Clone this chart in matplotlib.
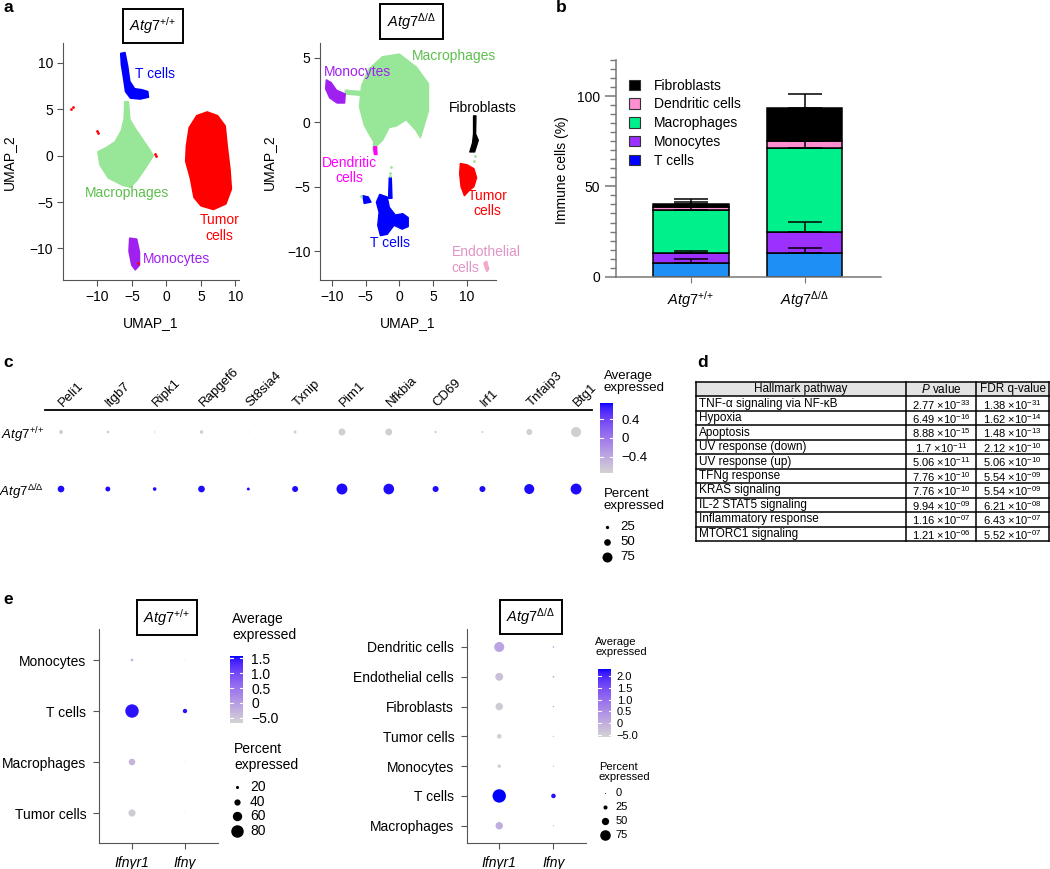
import numpy as np
import matplotlib
matplotlib.use("Agg")
import matplotlib.pyplot as plt
from matplotlib.patches import Polygon, Rectangle, Patch
from matplotlib.colors import LinearSegmentedColormap, Normalize
from matplotlib.cm import ScalarMappable

plt.rcParams['font.family'] = ['Liberation Sans', 'DejaVu Sans']
plt.rcParams['mathtext.fontset'] = 'custom'
plt.rcParams['mathtext.rm'] = 'Liberation Sans'
plt.rcParams['mathtext.it'] = 'Liberation Sans:italic'
plt.rcParams['mathtext.bf'] = 'Liberation Sans:bold'
plt.rcParams['axes.unicode_minus'] = True

# ---------------- data ----------------
WT = r'$\mathit{Atg7}^{+/{+}}$'
KO = r'$\mathit{Atg7}^{\Delta/\Delta}$'

# panel a, cluster outlines traced from the UMAP (UMAP_1, UMAP_2)
wt_tcells = [(-6.6, 11.0), (-6.0, 11.1), (-5.6, 9.6), (-5.3, 8.0), (-4.6, 7.2), (-3.6, 7.1),
             (-2.7, 6.9), (-2.6, 6.3), (-3.8, 6.1), (-5.2, 6.2), (-5.9, 6.9), (-6.2, 8.4), (-6.5, 9.8)]
wt_macro = [(-6.0, 5.8), (-5.5, 5.8), (-5.3, 3.9), (-4.5, 2.9), (-3.4, 1.7), (-2.4, 0.6), (-1.9, 0.0),
            (-3.0, -1.3), (-4.2, -2.6), (-5.2, -3.4), (-6.3, -3.2), (-8.4, -2.4), (-9.6, -1.0),
            (-9.9, 0.4), (-8.6, 0.9), (-7.4, 1.5), (-6.5, 2.7), (-6.1, 4.0)]
wt_tumor = [(4.4, 4.3), (5.9, 4.7), (7.4, 4.3), (8.5, 3.2), (8.8, 1.0), (9.2, -1.5), (9.4, -3.6),
            (8.6, -5.2), (6.8, -5.8), (5.0, -5.4), (4.0, -4.5), (3.5, -2.5), (2.8, -0.6), (2.9, 1.0),
            (3.3, 3.0)]
wt_mono = [(-5.3, -8.9), (-4.3, -9.0), (-3.9, -10.4), (-3.9, -11.8), (-4.5, -12.3), (-5.0, -11.8),
           (-5.4, -10.3)]
wt_red_x = [-13.8, -13.5, -10.0, -9.9, -1.7, -1.5, -4.1]
wt_red_y = [5.0, 5.2, 2.6, 2.4, 0.2, 0.0, -11.6]

ko_macro = [(-5.9, 1.2), (-5.6, 2.8), (-4.6, 4.1), (-2.5, 5.1), (0.0, 5.3), (2.5, 4.3), (4.3, 3.0),
            (4.3, 0.9), (3.1, -1.2), (2.4, -0.6), (1.0, 0.2), (-0.5, -0.3), (-1.5, -0.4), (-2.5, -1.4),
            (-3.3, -1.8), (-3.5, -2.4), (-3.9, -2.2), (-3.8, -1.5), (-4.6, -0.8), (-5.2, -0.2)]
ko_neck = [(-8.0, 2.5), (-5.8, 2.4), (-5.8, 2.1), (-8.0, 2.2)]
ko_mono = [(-10.8, 3.3), (-10.1, 3.1), (-9.3, 2.5), (-8.0, 2.2), (-8.1, 1.5), (-9.2, 1.5),
           (-10.3, 1.9), (-10.9, 2.6)]
ko_fib = [(10.95, 0.5), (11.3, 0.5), (11.25, -0.9), (11.65, -1.4), (11.1, -2.3), (10.4, -2.3),
          (10.8, -1.6), (10.95, -0.9)]
ko_tumor = [(9.0, -3.2), (10.0, -3.3), (11.0, -3.6), (11.4, -4.3), (11.0, -5.0), (10.3, -5.3),
            (9.6, -5.7), (9.1, -5.0), (8.9, -4.0)]
ko_tcells = [(-2.9, -5.6), (-1.8, -5.8), (-1.5, -6.6), (-0.6, -7.2), (0.5, -7.1), (1.3, -7.4),
             (1.3, -8.1), (0.4, -8.3), (-0.8, -8.0), (-1.8, -8.7), (-2.8, -8.8), (-3.2, -8.0),
             (-3.0, -7.0), (-3.4, -6.2)]
ko_tstem = [(-1.5, -4.3), (-1.2, -4.3), (-1.1, -5.9), (-1.6, -5.9)]
ko_tsmall = [(-5.4, -5.7), (-4.6, -5.8), (-4.2, -6.2), (-5.2, -6.3)]
ko_dend = [(-3.8, -1.9), (-3.4, -1.9), (-3.3, -2.5), (-3.7, -2.5)]
ko_endo = [(12.5, -10.9), (12.9, -10.8), (13.2, -11.4), (12.9, -11.6), (12.6, -11.2)]
ko_green_x = [-1.3, -1.35, -1.4, 11.1, 11.0, -5.7]
ko_green_y = [-3.5, -3.9, -4.2, -2.6, -3.0, -5.7]

# panel b, stacked percentages (segment heights) and upper errors
b_cells = ['T cells', 'Monocytes', 'Macrophages', 'Dendritic cells', 'Fibroblasts']
b_wt = [7.4, 5.5, 24.2, 1.5, 1.8]
b_ko = [12.9, 11.9, 46.5, 3.7, 18.4]
b_wt_err = [2.2, 1.4, 1.5, 2.6, 2.8]
b_ko_err = [3.1, 5.5, 3.7, 3.0, 7.7]

# panel c
genes_c = ['Peli1', 'Itgb7', 'Ripk1', 'Rapgef6', 'St8sia4', 'Txnip', 'Pim1', 'Nfkbia', 'CD69',
           'Irf1', 'Tnfaip3', 'Btg1']
pct_c_wt = [30, 20, 10, 27, 7, 22, 52, 52, 18, 15, 45, 75]
pct_c_ko = [50, 37, 27, 50, 22, 45, 82, 80, 45, 45, 75, 82]
avg_c_wt = [-0.707, -0.707, -0.707, -0.707, -0.707, -0.707, -0.707, -0.707, -0.707, -0.707, -0.707, -0.707]
avg_c_ko = [0.707, 0.707, 0.707, 0.707, 0.707, 0.707, 0.707, 0.707, 0.707, 0.707, 0.707, 0.707]

# panel d
pathways = ['TNF-α signaling via NF-κB', 'Hypoxia', 'Apoptosis', 'UV response (down)',
            'UV response (up)', 'TFNg response', 'KRAS signaling', 'IL-2 STAT5 signaling',
            'Inflammatory response', 'MTORC1 signaling']
p_mant = ['2.77', '6.49', '8.88', '1.7', '5.06', '7.76', '7.76', '9.94', '1.16', '1.21']
p_exp = ['-33', '-16', '-15', '-11', '-11', '-10', '-10', '-09', '-07', '-06']
q_mant = ['1.38', '1.62', '1.48', '2.12', '5.06', '5.54', '5.54', '6.21', '6.43', '5.52']
q_exp = ['-31', '-14', '-13', '-10', '-10', '-09', '-09', '-08', '-07', '-07']

# panel e
genes_e = ['Ifnγr1', 'Ifnγ']
e_wt_cells = ['Monocytes', 'T cells', 'Macrophages', 'Tumor cells']
e_wt_pct_r1 = [17, 86, 42, 46]
e_wt_pct_g = [5, 28, 5, 5]
e_wt_avg_r1 = [-0.35, 1.5, -0.3, -0.6]
e_wt_avg_g = [-0.5, 1.5, -0.5, -0.5]
e_ko_cells = ['Dendritic cells', 'Endothelial cells', 'Fibroblasts', 'Tumor cells', 'Monocytes',
              'T cells', 'Macrophages']
e_ko_pct_r1 = [71, 55, 51, 29, 20, 97, 51]
e_ko_pct_g = [6, 6, 5, 4, 4, 29, 4]
e_ko_avg_r1 = [0.15, -0.3, -0.45, -0.5, -0.5, 2.3, 0.0]
e_ko_avg_g = [0.3, 0.3, 0.2, -0.2, -0.2, 2.2, -0.2]

# ---------------- helpers ----------------
W, H = 1050, 869
fig = plt.figure(figsize=(W / 100, H / 100), dpi=100)


def box(x0, y0, x1, y1):
    return [x0 / W, 1 - y1 / H, (x1 - x0) / W, (y1 - y0) / H]


_M = np.array([[0.4124, 0.3576, 0.1805], [0.2126, 0.7152, 0.0722], [0.0193, 0.1192, 0.9505]])
_WHITE = np.array([0.95047, 1.0, 1.08883])


def srgb2lab(rgb):
    c = np.asarray(rgb, float)
    lin = np.where(c <= 0.04045, c / 12.92, ((c + 0.055) / 1.055) ** 2.4)
    xyz = _M @ lin / _WHITE
    f = np.where(xyz > 0.008856, np.cbrt(xyz), 7.787 * xyz + 16 / 116)
    return np.array([116 * f[1] - 16, 500 * (f[0] - f[1]), 200 * (f[1] - f[2])])


def lab2srgb(lab):
    fy = (lab[0] + 16) / 116
    f = np.array([fy + lab[1] / 500, fy, fy - lab[2] / 200])
    xyz = np.where(f ** 3 > 0.008856, f ** 3, (f - 16 / 116) / 7.787) * _WHITE
    lin = np.clip(np.linalg.inv(_M) @ xyz, 0, 1)
    return np.clip(np.where(lin <= 0.0031308, 12.92 * lin, 1.055 * lin ** (1 / 2.4) - 0.055), 0, 1)


l0, l1 = srgb2lab([211 / 255] * 3), srgb2lab([0, 0, 1])
cmap = LinearSegmentedColormap.from_list('gb', [lab2srgb(l0 + (l1 - l0) * t) for t in np.linspace(0, 1, 64)])


def msize(r):
    return (2 * np.asarray(r, float) * 0.72) ** 2


def colorbar(rect, vmin, vmax, ticks, labels, fs, pad):
    cax = fig.add_axes(box(*rect))
    cb = fig.colorbar(ScalarMappable(Normalize(vmin, vmax), cmap), cax=cax)
    cb.outline.set_visible(False)
    cb.set_ticks(ticks)
    cb.set_ticklabels(labels)
    cax.tick_params(length=0, labelsize=fs, pad=pad)
    for t in ticks:
        cax.plot([0, 0.2], [t, t], color='white', lw=0.8)
        cax.plot([0.8, 1], [t, t], color='white', lw=0.8)


# overlay in pixel coordinates for labels and legends
ov = fig.add_axes([0, 0, 1, 1], zorder=10)
ov.set_xlim(0, W)
ov.set_ylim(H, 0)
ov.axis('off')


def title_box(x, y, s):
    ov.text(x, y, s, ha='center', va='center', fontsize=10.5,
            bbox=dict(boxstyle='square,pad=0.45', fc='white', ec='black', lw=1.4))


for letter, (lx, ly) in zip('abcde', [(3, 12), (556, 12), (3, 367), (697, 367), (3, 604)]):
    ov.text(lx, ly, letter, fontsize=12.5, fontweight='bold', va='baseline')

# ---------------- panel a ----------------
GREEN, GREEN_T = '#98e698', '#5cbf4c'


def umap_axes(rect, xlim, ylim, yticks):
    ax = fig.add_axes(box(*rect))
    ax.set_xlim(*xlim)
    ax.set_ylim(*ylim)
    ax.set_xticks([-10, -5, 0, 5, 10])
    ax.set_yticks(yticks)
    for s in ['top', 'right']:
        ax.spines[s].set_visible(False)
    for s in ['left', 'bottom']:
        ax.spines[s].set_color('#555555')
    ax.tick_params(labelsize=10, length=4, color='#555555', pad=3)
    return ax


axA = umap_axes((62.7, 43.3, 238.6, 280), (-15.0, 10.45), (-13.4, 12.1), [-10, -5, 0, 5, 10])
for poly, col in [(wt_macro, GREEN), (wt_tumor, '#ff0000'), (wt_tcells, '#0000ff'), (wt_mono, '#a020f0')]:
    axA.add_patch(Polygon(poly, closed=True, fc=col, ec=col, lw=1.2, joinstyle='round'))
axA.scatter(wt_red_x, wt_red_y, s=4, color='#ff0000', lw=0)
axA.text(-4.6, 8.8, 'T cells', color='#0000ff', fontsize=10, va='center')
axA.text(-5.7, -4.05, 'Macrophages', color=GREEN_T, fontsize=10, ha='center', va='center')
axA.text(7.7, -7.8, 'Tumor\ncells', color='#ff0000', fontsize=10, ha='center', va='center',
         linespacing=1.15)
axA.text(-3.4, -11.1, 'Monocytes', color='#a020f0', fontsize=10, va='center')

axA2 = umap_axes((320.2, 43.3, 495.9, 280), (-11.7, 14.25), (-12.25, 6.14), [-10, -5, 0, 5])
for poly, col in [(ko_macro, GREEN), (ko_neck, GREEN), (ko_mono, '#a020f0'), (ko_fib, '#000000'),
                  (ko_tumor, '#ff0000'), (ko_tcells, '#0000ff'), (ko_tstem, '#0000ff'),
                  (ko_tsmall, '#0000ff'), (ko_dend, '#ff00ff'), (ko_endo, '#f0a8cc')]:
    axA2.add_patch(Polygon(poly, closed=True, fc=col, ec=col, lw=1.0, joinstyle='round'))
axA2.scatter(ko_green_x, ko_green_y, s=4, color=GREEN, lw=0)
axA2.text(1.8, 5.15, 'Macrophages', color=GREEN_T, fontsize=10, va='center')
axA2.text(-11.1, 3.9, 'Monocytes', color='#a020f0', fontsize=10, va='center')
axA2.text(7.3, 1.15, 'Fibroblasts', color='#000000', fontsize=10, va='center')
axA2.text(-7.4, -3.75, 'Dendritic\ncells', color='#ff00ff', fontsize=10, ha='center', va='center',
          linespacing=1.15)
axA2.text(13.0, -6.3, 'Tumor\ncells', color='#ff0000', fontsize=10, ha='center', va='center',
          linespacing=1.15)
axA2.text(-1.4, -9.35, 'T cells', color='#0000ff', fontsize=10, ha='center', va='center')
axA2.text(7.7, -10.7, 'Endothelial\ncells', color='#e195c6', fontsize=10, ha='left', va='center',
          linespacing=1.15)

ov.text(8.6, 162, 'UMAP_2', rotation=90, ha='center', va='center', fontsize=10)
ov.text(268.6, 162, 'UMAP_2', rotation=90, ha='center', va='center', fontsize=10)
ov.text(150.6, 323, 'UMAP_1', ha='center', va='center', fontsize=10)
ov.text(408, 323, 'UMAP_1', ha='center', va='center', fontsize=10)
title_box(153, 26, WT)
title_box(411.5, 21.5, KO)

# ---------------- panel b ----------------
bar_cols = ['#1e90f5', '#9b30ff', '#00f08c', '#ff8fd0', '#000000']
leg_cols = ['#0000ff', '#9b30ff', '#00f08c', '#ff8fd0', '#000000']
axB = fig.add_axes(box(616, 60, 880.7, 276.7))
for xi, (vals, errs) in enumerate([(b_wt, b_wt_err), (b_ko, b_ko_err)]):
    bottom = 0
    tops = []
    for v, c in zip(vals, bar_cols):
        axB.bar(xi, v, bottom=bottom, width=0.667, color=c, edgecolor='black', lw=1.1, zorder=2)
        bottom += v
        tops.append(bottom)
    for t, e in zip(tops, errs):
        axB.errorbar(xi, t, yerr=[[0], [e]], color='black', lw=1.1, capsize=12.5, capthick=1.1,
                     zorder=3)
axB.set_xlim(-0.66, 1.67)
axB.set_ylim(0, 120)
axB.set_yticks([0, 50, 100])
axB.set_yticks(np.arange(0, 121, 5), minor=True)
axB.set_xticks([0, 1])
axB.set_xticklabels([WT, KO], fontsize=10.5)
for s in ['top', 'right']:
    axB.spines[s].set_visible(False)
for s in ['left', 'bottom']:
    axB.spines[s].set_color('#777777')
    axB.spines[s].set_linewidth(1.1)
axB.tick_params(axis='y', which='major', length=8, labelsize=10, color='#777777', width=1.1)
axB.tick_params(axis='y', which='minor', length=4, color='#777777', width=1.0)
axB.tick_params(axis='x', length=4, color='#777777', pad=5)
handles = [Patch(fc=c, ec='#333333', lw=0.8) for c in leg_cols[::-1]]
axB.legend(handles, b_cells[::-1], loc='upper left', bbox_to_anchor=(0.03, 0.94), frameon=False,
           fontsize=10, handlelength=0.75, handleheight=0.75, handletextpad=1.0, labelspacing=0.35,
           borderaxespad=0)
ov.text(561.7, 170, 'Immune cells (%)', rotation=90, ha='center', va='center', fontsize=10)

# ---------------- panel c ----------------
axC = fig.add_axes(box(45, 410, 592, 510))
xs = np.arange(len(genes_c))
normC = Normalize(-0.737, 0.737)
axC.scatter(xs, np.zeros(len(xs)), s=msize(np.asarray(pct_c_wt) / 15), c=avg_c_wt, cmap=cmap,
            norm=normC, lw=0)
axC.scatter(xs, np.ones(len(xs)), s=msize(np.asarray(pct_c_ko) / 15), c=avg_c_ko, cmap=cmap,
            norm=normC, lw=0)
axC.set_xlim(-0.342, 11.34)
axC.set_ylim(1.368, -0.386)
for s in ['left', 'right', 'bottom']:
    axC.spines[s].set_visible(False)
axC.spines['top'].set_linewidth(1.3)
axC.xaxis.tick_top()
axC.set_xticks(xs)
axC.set_xticklabels(genes_c, rotation=45, ha='left', va='center', rotation_mode='anchor', fontsize=9.5)
axC.set_yticks([0, 1])
axC.set_yticklabels([WT, KO], fontsize=9.5)
axC.tick_params(length=0, pad=4)
axC.tick_params(axis='y', pad=1)

colorbar((600, 403, 613, 473), -0.737, 0.737, [0.4, 0, -0.4], ['0.4', '0', '−0.4'], 9.5, 6)
ov.text(604, 382, 'Average\nexpressed', fontsize=9.5, va='center', linespacing=1.1)
ov.text(604, 500, 'Percent\nexpressed', fontsize=9.5, va='center', linespacing=1.1)
for p, y in zip([25, 50, 75], [527, 542, 557]):
    ov.scatter(607, y, s=msize(p / 15), color='black', lw=0)
    ov.text(620, y, str(p), fontsize=9.5, va='center')

# ---------------- panel d ----------------
tx0, tx1, ty0 = 696, 1049, 382
cols_x = [696, 906, 976, 1049]
rh = 159 / 11
ov.add_patch(Rectangle((tx0, ty0), tx1 - tx0, rh, fc='#e3e3e3', ec='none'))
for i in range(12):
    ov.plot([tx0, tx1], [ty0 + i * rh, ty0 + i * rh], color='black', lw=1.1)
for cx in cols_x:
    ov.plot([cx, cx], [ty0, ty0 + 11 * rh], color='black', lw=1.1)
hy = ty0 + rh / 2
ov.text((cols_x[0] + cols_x[1]) / 2, hy, 'Hallmark pathway', ha='center', va='center', fontsize=8.5)
ov.text((cols_x[1] + cols_x[2]) / 2, hy, r'$\mathit{P}$ value', ha='center', va='center', fontsize=8.5)
ov.text((cols_x[2] + cols_x[3]) / 2, hy, 'FDR q-value', ha='center', va='center', fontsize=8.5)
for i, name in enumerate(pathways):
    yy = ty0 + (i + 1.5) * rh
    ov.text(cols_x[0] + 3, yy, name, ha='left', va='center', fontsize=8.5)
    ov.text((cols_x[1] + cols_x[2]) / 2, yy + 1, p_mant[i] + r' ×10$^{' + p_exp[i] + '}$',
            ha='center', va='center', fontsize=8)
    ov.text((cols_x[2] + cols_x[3]) / 2, yy + 1, q_mant[i] + r' ×10$^{' + q_exp[i] + '}$',
            ha='center', va='center', fontsize=8)

# ---------------- panel e ----------------


def dot_axes(rect, xlim, ylim, cells, fs):
    ax = fig.add_axes(box(*rect))
    ax.set_xlim(*xlim)
    ax.set_ylim(*ylim)
    for s in ['top', 'right']:
        ax.spines[s].set_visible(False)
    for s in ['left', 'bottom']:
        ax.spines[s].set_color('#555555')
    ax.set_xticks([0, 1])
    ax.set_xticklabels(genes_e, fontstyle='italic', fontsize=10)
    ax.set_yticks(range(len(cells)))
    ax.set_yticklabels(cells, fontsize=fs)
    ax.tick_params(length=4, color='#555555', pad=5)
    return ax


axE = dot_axes((99, 629, 218, 843), (-0.623, 1.623), (3.588, -0.608), e_wt_cells, 10)
normE = Normalize(-0.68, 1.58)
yy = np.arange(len(e_wt_cells))
axE.scatter(np.zeros(len(yy)), yy, s=msize(np.asarray(e_wt_pct_r1) * 0.078), c=e_wt_avg_r1,
            cmap=cmap, norm=normE, lw=0)
axE.scatter(np.ones(len(yy)), yy, s=msize(np.asarray(e_wt_pct_g) * 0.078), c=e_wt_avg_g,
            cmap=cmap, norm=normE, lw=0)
colorbar((230, 656, 243, 723), -0.68, 1.58, [1.5, 1.0, 0.5, 0, -0.5],
         ['1.5', '1.0', '0.5', '0', '−5.0'], 10, 6)
ov.text(232, 627, 'Average\nexpressed', fontsize=10, va='center', linespacing=1.1)
ov.text(234, 757, 'Percent\nexpressed', fontsize=10, va='center', linespacing=1.1)
for p, y in zip([20, 40, 60, 80], [787, 802, 816, 831]):
    ov.scatter(237.3, y, s=msize(p * 0.078), color='black', lw=0)
    ov.text(250, y, str(p), fontsize=10, va='center')
title_box(167, 617.5, WT)

axE2 = dot_axes((466.7, 629, 586, 843), (-0.60, 1.60), (6.58, -0.604), e_ko_cells, 10)
normE2 = Normalize(-0.585, 2.3)
yy = np.arange(len(e_ko_cells))
axE2.scatter(np.zeros(len(yy)), yy, s=msize(0.4 + np.asarray(e_ko_pct_r1) * 0.065), c=e_ko_avg_r1,
             cmap=cmap, norm=normE2, lw=0)
axE2.scatter(np.ones(len(yy)), yy, s=msize(0.4 + np.asarray(e_ko_pct_g) * 0.065), c=e_ko_avg_g,
             cmap=cmap, norm=normE2, lw=0)
colorbar((598, 669, 611.3, 737), -0.585, 2.3, [2.0, 1.5, 1.0, 0.5, 0, -0.5],
         ['2.0', '1.5', '1.0', '0.5', '0', '−5.0'], 8, 4)
ov.text(595.4, 647, 'Average\nexpressed', fontsize=8, va='center', linespacing=1.1)
ov.text(598.8, 772, 'Percent\nexpressed', fontsize=8, va='center', linespacing=1.1)
for p, y in zip([0, 25, 50, 75], [793, 807, 820.7, 835]):
    ov.scatter(604.9, y, s=msize(0.4 + p * 0.065), color='black', lw=0)
    ov.text(615.7, y, str(p), fontsize=8, va='center')
title_box(531, 617, KO)

fig.savefig('out.png', dpi=100)
